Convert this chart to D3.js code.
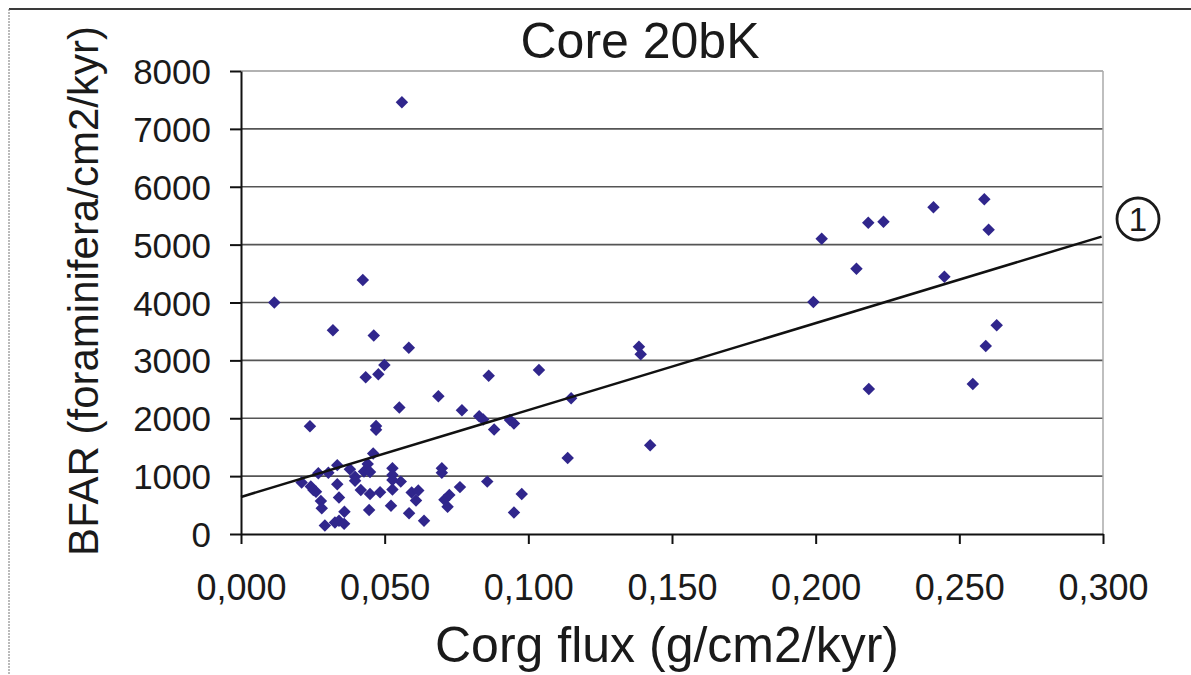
<!DOCTYPE html>
<head>
  <title>Core 20bK</title>
  <meta charset="UTF-8" />
  <style>
    body { margin: 0; background: #fff; }
    svg { display: block; }
    text { font-family: "Liberation Sans", Arial, sans-serif; fill: #1a1a1a; }
  </style>
</head>
<body>
  <svg width="1191" height="675"></svg>
</body>

<script src="https://cdn.jsdelivr.net/npm/d3@7"></script>
<script>
  // data
  const corgFlux = [
    0.0116, 0.0211, 0.0240, 0.0243, 0.0252, 0.0261, 0.0269, 0.0278, 0.0281, 0.0292,
    0.0304, 0.0320, 0.0327, 0.0335, 0.0335, 0.0341, 0.0341, 0.0359, 0.0360, 0.0379,
    0.0397, 0.0397, 0.0417, 0.0424, 0.0434, 0.0428, 0.0441, 0.0446, 0.0449, 0.0449,
    0.0460, 0.0462, 0.0470, 0.0470, 0.0478, 0.0484, 0.0499, 0.0522, 0.0527, 0.0527,
    0.0527, 0.0527, 0.0551, 0.0556, 0.0560, 0.0584, 0.0585, 0.0594, 0.0609, 0.0617,
    0.0637, 0.0687, 0.0699, 0.0699, 0.0708, 0.0719, 0.0725, 0.0762, 0.0769, 0.0829,
    0.0843, 0.0857, 0.0862, 0.0881, 0.0936, 0.0950, 0.0950, 0.0977, 0.1037, 0.1137,
    0.1149, 0.1385, 0.1391, 0.1424, 0.1992, 0.2021, 0.2142, 0.2183, 0.2185, 0.2236,
    0.2410, 0.2448, 0.2547, 0.2587, 0.2592, 0.2602, 0.2630
  ];
  const bfar = [
    4000, 890, 1860, 820, 760, 730, 1050, 570, 445, 145,
    1060, 3520, 200, 1190, 860, 630, 230, 175, 385, 1120,
    990, 920, 760, 4390, 2710, 1080, 1210, 415, 1070, 690,
    1390, 3430, 1865, 1800, 2760, 720, 2920, 490, 1135, 1020,
    935, 770, 2185, 905, 7460, 3220, 360, 715, 580, 750,
    230, 2380, 1135, 1060, 590, 470, 675, 810, 2140, 2035,
    1980, 905, 2735, 1805, 1970, 1910, 370, 690, 2835, 1315,
    2345, 3235, 3105, 1535, 4010, 5100, 4585, 5380, 2505, 5395,
    5645, 4445, 2590, 5785, 3250, 5255, 3605
  ];
  const xTicks = [0, 0.05, 0.1, 0.15, 0.2, 0.25, 0.3];
  const yTicks = [0, 1000, 2000, 3000, 4000, 5000, 6000, 7000, 8000];

  // linear trend line (1)
  const trendIntercept = 640;
  const trendSlope = 15020;
  const trendEnd = 0.2995;

  const svg = d3.select("svg");

  const x = d3.scaleLinear().domain([0, 0.3]).range([241, 1103]);
  const y = d3.scaleLinear().domain([0, 8000]).range([534, 71]);

  // outer frame (only top and left visible)
  svg.append("line")
    .attr("x1", 9).attr("x2", 1191).attr("y1", 9).attr("y2", 9)
    .attr("stroke", "#3a3a3a").attr("stroke-width", 2);
  svg.append("line")
    .attr("x1", 9).attr("x2", 9).attr("y1", 9).attr("y2", 675)
    .attr("stroke", "#777").attr("stroke-width", 1)
    .attr("stroke-dasharray", "2,1");

  // gridlines
  svg.append("g")
    .selectAll("line")
    .data(yTicks.filter(d => d > 0))
    .join("line")
    .attr("x1", x(0)).attr("x2", x(0.3))
    .attr("y1", d => y(d)).attr("y2", d => y(d))
    .attr("stroke", d => d === 8000 ? "#999" : "#555")
    .attr("stroke-width", 1.6);

  // right border of plot area
  svg.append("line")
    .attr("x1", x(0.3)).attr("x2", x(0.3))
    .attr("y1", y(8000)).attr("y2", y(0))
    .attr("stroke", "#aaa").attr("stroke-width", 1.5);

  // x axis
  const xAxis = svg.append("g")
    .attr("transform", `translate(0,${y(0)})`)
    .call(d3.axisBottom(x).tickValues(xTicks).tickSize(10).tickSizeOuter(0)
      .tickFormat(d => d3.format(".3f")(d).replace(".", ",")));
  xAxis.select(".domain").attr("stroke", "#111").attr("stroke-width", 2);
  xAxis.selectAll(".tick line").attr("stroke", "#111").attr("stroke-width", 2);
  xAxis.selectAll(".tick text")
    .attr("y", 66).attr("dy", 0)
    .attr("font-size", 36).attr("font-family", "Liberation Sans, Arial, sans-serif")
    .attr("fill", "#1a1a1a");

  // y axis
  const yAxis = svg.append("g")
    .attr("transform", `translate(${x(0)},0)`)
    .call(d3.axisLeft(y).tickValues(yTicks).tickSize(11).tickSizeOuter(0)
      .tickFormat(d3.format("d")));
  yAxis.select(".domain").attr("stroke", "#111").attr("stroke-width", 2);
  yAxis.selectAll(".tick line").attr("stroke", "#111").attr("stroke-width", 2);
  yAxis.selectAll(".tick text")
    .attr("x", -30).attr("dy", "0.36em")
    .attr("font-size", 35).attr("font-family", "Liberation Sans, Arial, sans-serif")
    .attr("fill", "#1a1a1a");

  // points
  const points = corgFlux.map((c, i) => [c, bfar[i]]);
  svg.append("g")
    .selectAll("path")
    .data(points)
    .join("path")
    .attr("d", d3.symbol().type(d3.symbolSquare).size(78))
    .attr("transform", d => `translate(${x(d[0])},${y(d[1])}) rotate(45)`)
    .attr("fill", "#30268c");

  // trend line
  svg.append("line")
    .attr("x1", x(0)).attr("y1", y(trendIntercept))
    .attr("x2", x(trendEnd)).attr("y2", y(trendIntercept + trendSlope * trendEnd))
    .attr("stroke", "#111").attr("stroke-width", 2.5);

  // circled label
  svg.append("circle")
    .attr("cx", 1138).attr("cy", 219).attr("r", 21)
    .attr("fill", "none").attr("stroke", "#1a1a1a").attr("stroke-width", 2.8);
  svg.append("text")
    .attr("x", 1138).attr("y", 231)
    .attr("text-anchor", "middle")
    .attr("font-size", 33)
    .text("1");

  // titles
  svg.append("text")
    .attr("x", 640).attr("y", 58)
    .attr("text-anchor", "middle")
    .attr("font-size", 50)
    .text("Core 20bK");

  svg.append("text")
    .attr("x", 667).attr("y", 662)
    .attr("text-anchor", "middle")
    .attr("font-size", 50)
    .text("Corg flux (g/cm2/kyr)");

  svg.append("text")
    .attr("transform", "translate(98,291) rotate(-90)")
    .attr("text-anchor", "middle")
    .attr("font-size", 42)
    .text("BFAR (foraminifera/cm2/kyr)");
</script>
